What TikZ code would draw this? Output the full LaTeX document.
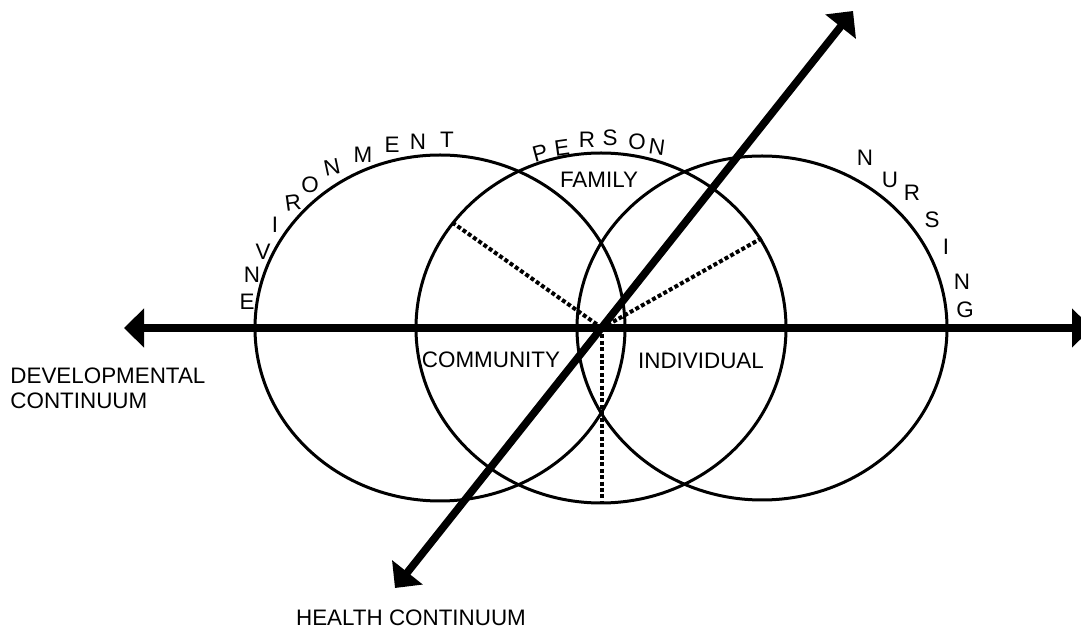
\documentclass[tikz,border=0pt]{standalone}
\usepackage{fontspec}
\setmainfont{Liberation Sans}
\usetikzlibrary{arrows.meta}

\begin{document}
\begin{tikzpicture}[x=0.5pt,y=-0.5pt,
 every node/.style={inner sep=0pt,font=\fontsize{11.2}{12.5}\selectfont},
 ring/.style={line width=1.5pt},
 spoke/.style={line width=2pt,dash pattern=on 2pt off 1.2pt},
 axis/.style={line width=3.8pt,{Triangle[width=19pt,length=10pt]}-{Triangle[width=19pt,length=10pt]}}]
\useasboundingbox (0,0) rectangle (1081,635);
\coordinate (o) at (602,328);
\coordinate (west) at (124,328);
\coordinate (east) at (1092,328);
\coordinate (sw) at (395,588);
\coordinate (ne) at (853,11);
\coordinate (s1) at (453,223);
\coordinate (s2) at (762,238);
\coordinate (s3) at (602,502);
\foreach \cx/\ry in {440/173,601/175,762/172}
 \draw[ring] (\cx,328) ellipse [x radius=185,y radius=\ry];
\foreach \s in {s1,s2,s3}
 \draw[spoke] (o) -- (\s);
\draw[axis] (west) -- (east);
\draw[axis] (sw) -- (ne);
\foreach \c/\x/\y/\r [count=\i] in {E/247/302/0,N/252/275/0,V/263/252/0,
 I/275/225/0,R/293/203/8,O/310/185/0,N/332/167/12,M/363/155/0,E/392/145/0,
 N/418/142/0,T/447/140/0}
 \node[rotate=\r] (env\i) at (\x,\y) {\c};
\foreach \c/\x/\y/\r [count=\i] in {P/540/153/15,E/562/148/8,R/587/140/0,
 S/610/138/0,O/637/142/0,N/657/147/-8}
 \node[rotate=\r] (per\i) at (\x,\y) {\c};
\foreach \c/\x/\y [count=\i] in {N/865/158,U/890/180,R/912/193,S/932/220,
 I/946/247,N/962/282,G/965/310}
 \node (nur\i) at (\x,\y) {\c};
\node (family) at (599,180) {FAMILY};
\node (community) at (491,360) {COMMUNITY};
\node (individual) at (701,361) {INDIVIDUAL};
\node[anchor=north west,align=left] (devel) at (10,367) {DEVELOPMENTAL\\CONTINUUM};
\node (health) at (411,618) {HEALTH CONTINUUM};
\end{tikzpicture}
\end{document}
